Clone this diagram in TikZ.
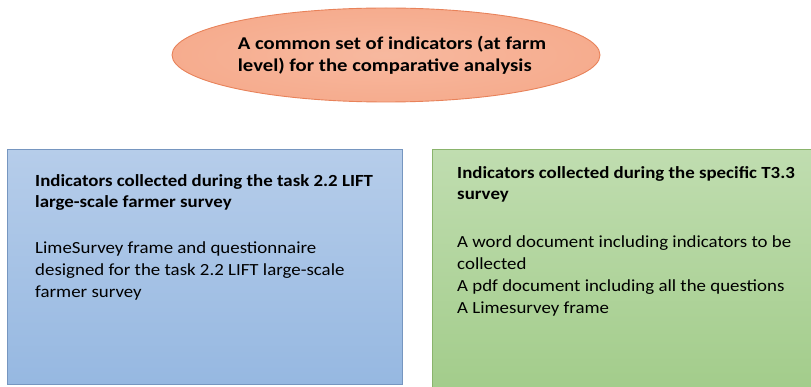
\documentclass[tikz,border=0pt]{standalone}
\usepackage{fontspec}
\setmainfont{Carlito}
\usetikzlibrary{positioning, shapes.geometric}

\definecolor{salmon}{RGB}{246,172,142}
\definecolor{salmonline}{RGB}{232,130,90}
\definecolor{bluetop}{RGB}{182,205,234}
\definecolor{bluebot}{RGB}{150,184,225}
\definecolor{blueline}{RGB}{118,150,192}
\definecolor{greentop}{RGB}{192,221,176}
\definecolor{greenbot}{RGB}{162,204,138}
\definecolor{greenline}{RGB}{138,180,108}

\begin{document}
\begin{tikzpicture}
        [
          x=1pt, y=1pt,
          goal/.style={ellipse, draw=salmonline, line width=0.9pt,
            inner color=salmon!85!white, outer color=salmon,
            minimum width=428pt, minimum height=94pt, inner sep=0pt},
          goaltext/.style={align=left, inner sep=0pt,
            xscale=1.15, transform shape,
            font=\fontsize{18}{21.5}\selectfont\bfseries},
          box/.style={anchor=north west, rectangle, line width=0.8pt},
          head/.style={anchor=north west, align=left, inner sep=0pt,
            xscale=1.11, transform shape,
            font=\fontsize{17}{21.5}\selectfont\bfseries},
          body/.style={anchor=north west, align=left, inner sep=0pt,
            xscale=1.11, transform shape,
            font=\fontsize{17}{22}\selectfont}
        ]
        \useasboundingbox (0,0) rectangle (811,-387);
        % goal
        \node [goal] (common) at (386,-55) {};
        \node [goaltext] (commontext) at ([xshift=6pt]common.center) {A common set of indicators (at farm\\level) for the comparative analysis};
        % LIFT survey
        \node [box, draw=blueline, top color=bluetop, bottom color=bluebot,
          minimum width=395pt, minimum height=235pt] (lift) at (7,-149) {};
        \node [head] (lifthead) at (35,-174) {Indicators collected during the task 2.2 LIFT\\large-scale farmer survey};
        \node [body, below=31pt of lifthead.south west, anchor=north west] (liftbody)
          {LimeSurvey frame and questionnaire\\designed for the task 2.2 LIFT large-scale\\farmer survey};
        % T3.3 survey
        \node [box, draw=greenline, top color=greentop, bottom color=greenbot,
          minimum width=390pt, minimum height=245pt] (spec) at (432,-149) {};
        \node [head] (spechead) at (457,-166) {Indicators collected during the specific T3.3\\survey};
        \node [body, below=33pt of spechead.south west, anchor=north west] (specbody)
          {A word document including indicators to be\\collected\\A pdf document including all the questions\\A Limesurvey frame};
\end{tikzpicture}
\end{document}
